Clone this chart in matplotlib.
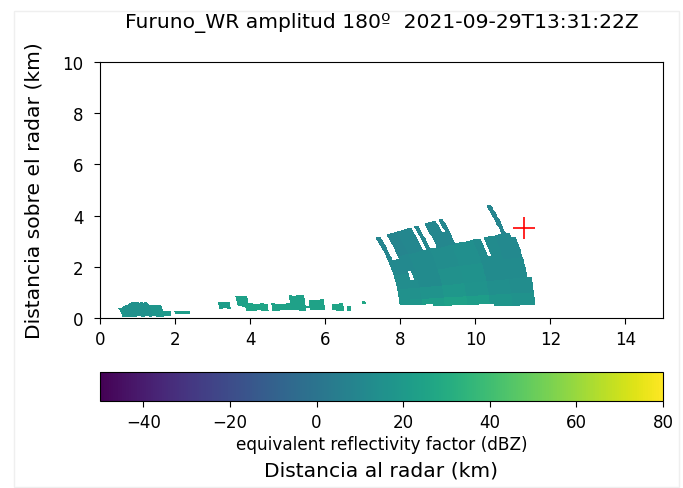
import numpy as np
import matplotlib
matplotlib.use("Agg")
import matplotlib.pyplot as plt
from matplotlib.patches import Rectangle

# RHI de Furuno_WR, azimut 180
titulo = "Furuno_WR amplitud 180º  2021-09-29T13:31:22Z"

# rejilla polar: puertas de rango (km) y elevaciones (grados)
gate_edges = np.arange(0.0, 12.05, 0.1)
elev_edges = np.arange(0.0, 45.5, 0.5)

# nucleo de tormenta: centro de cada puerta y elevacion superior/inferior
storm_r = [8.1, 8.2, 8.3, 8.4, 8.5, 8.6, 8.7, 8.8, 8.9, 9.0, 9.1, 9.2,
           9.3, 9.4, 9.5, 9.6, 9.7, 9.8, 9.9, 10.0, 10.1, 10.2, 10.3, 10.4,
           10.5, 10.6, 10.7, 10.8, 10.9, 11.0, 11.1, 11.2, 11.3, 11.4, 11.5, 11.6]
storm_top = [23, 16, 16, 23, 23, 23, 23, 23, 23, 23, 17, 23,
             17, 17, 23, 23, 23, 20, 23, 17, 17, 17, 17, 17,
             17, 17, 13, 17, 17, 17, 17, 17, 23, 17, 16, 8]
storm_bot = [3.5, 3.5, 3.5, 3.5, 3.5, 3.5, 3.5, 3.5, 3.5, 3.0, 3.0, 3.0,
             3.0, 3.0, 3.0, 3.0, 3.0, 3.0, 3.0, 3.0, 3.0, 3.0, 3.0, 3.0,
             3.0, 2.5, 2.5, 2.5, 2.5, 2.5, 2.5, 2.5, 2.5, 2.5, 2.5, 2.5]

# dBZ por bloques: filas = bandas de elevacion, columnas = bloques de rango
band_el = [2.5, 5, 8, 12, 17, 23.5]
band_r = [8.0, 8.6, 9.2, 9.8, 10.4, 11.0, 11.7]
band_dbz = [[18, 22, 24, 22, 18, 16],
            [15, 17, 19, 17, 14, 13],
            [13, 12, 15, 16, 12, 12],
            [11, 12, 13, 14, 12, 11],
            [9, 10, 10, 10, 10, 9]]

# hueco dentro del nucleo (rango, elev min, elev max)
hueco = [8.5, 10.0, 12.5]

# ecos de suelo cerca del radar: r0, r1, h0, h1 (km), dBZ
clutter = [(0.65, 1.6, 0.06, 0.50, 18),
           (0.75, 1.35, 0.10, 0.60, 15),
           (1.6, 1.9, 0.06, 0.28, 20),
           (2.0, 2.4, 0.15, 0.28, 22),
           (3.2, 3.45, 0.37, 0.62, 22),
           (3.7, 4.0, 0.45, 0.85, 24),
           (3.9, 4.45, 0.28, 0.55, 26),
           (4.6, 5.1, 0.30, 0.55, 25),
           (5.1, 5.4, 0.30, 0.88, 24),
           (5.5, 5.55, 0.40, 0.50, 22),
           (5.65, 5.95, 0.30, 0.70, 25),
           (6.2, 6.45, 0.30, 0.55, 26),
           (6.6, 6.65, 0.30, 0.45, 25),
           (7.05, 7.1, 0.55, 0.68, 27)]

# posicion marcada
punto_x = 11.3
punto_y = 3.5

rc = 0.5 * (gate_edges[:-1] + gate_edges[1:])
ec = 0.5 * (elev_edges[:-1] + elev_edges[1:])
dbz = np.full((len(ec), len(rc)), np.nan)

for r, top, bot in zip(storm_r, storm_top, storm_bot):
    j = np.argmin(np.abs(rc - r))
    for i, e in enumerate(ec):
        if bot <= e <= top:
            bi = np.searchsorted(band_el, e) - 1
            bj = np.searchsorted(band_r, r) - 1
            dbz[i, j] = band_dbz[bi][bj]
j = np.argmin(np.abs(rc - hueco[0]))
dbz[(ec >= hueco[1]) & (ec <= hueco[2]), j] = np.nan

for r0, r1, h0, h1, val in clutter:
    for j, r in enumerate(rc):
        if r0 <= r <= r1 + 0.05:
            h = r * np.sin(np.radians(ec))
            dbz[(h >= h0) & (h <= h1) & (ec < 35), j] = val

R, E = np.meshgrid(gate_edges, np.radians(elev_edges))
X = R * np.cos(E)
Y = R * np.sin(E)

plt.rcParams['xtick.labelsize'] = 12
plt.rcParams['ytick.labelsize'] = 12
plt.rcParams['xtick.major.size'] = 4.3
plt.rcParams['ytick.major.size'] = 4.3
plt.rcParams['xtick.major.pad'] = 4.5
plt.rcParams['ytick.major.pad'] = 7.5

fig = plt.figure(figsize=(6.83, 4.89), dpi=100)
ax = fig.add_axes([100 / 683, 1 - 319 / 489, 563 / 683, 256 / 489])
cax = fig.add_axes([100 / 683, 1 - 402 / 489, 563 / 683, 29 / 489])

pm = ax.pcolormesh(X, Y, np.ma.masked_invalid(dbz), cmap='viridis',
                   vmin=-50, vmax=80, rasterized=True)
ax.plot(punto_x, punto_y, '+', color='red', markersize=16, mew=1.2)
ax.set_xlim(0, 15)
ax.set_ylim(0, 10)
ax.set_title(titulo, fontsize=14.6, pad=25)
ax.set_ylabel("Distancia sobre el radar (km)", fontsize=14.6, labelpad=14)

cbar = fig.colorbar(pm, cax=cax, orientation='horizontal')
cax.tick_params(pad=4.5)
cax.set_xlabel("equivalent reflectivity factor (dBZ)", fontsize=12.2, labelpad=3)
fig.text(381 / 683, 1 - 471 / 489, "Distancia al radar (km)", fontsize=14.6,
         ha='center', va='center')

# marco tenue de la salida
fig.patches.append(Rectangle((14 / 683, 1 / 489), 665 / 683, 476 / 489,
                             transform=fig.transFigure, fill=False,
                             edgecolor='#efefef', lw=1))

fig.savefig("out.png", dpi=100)
